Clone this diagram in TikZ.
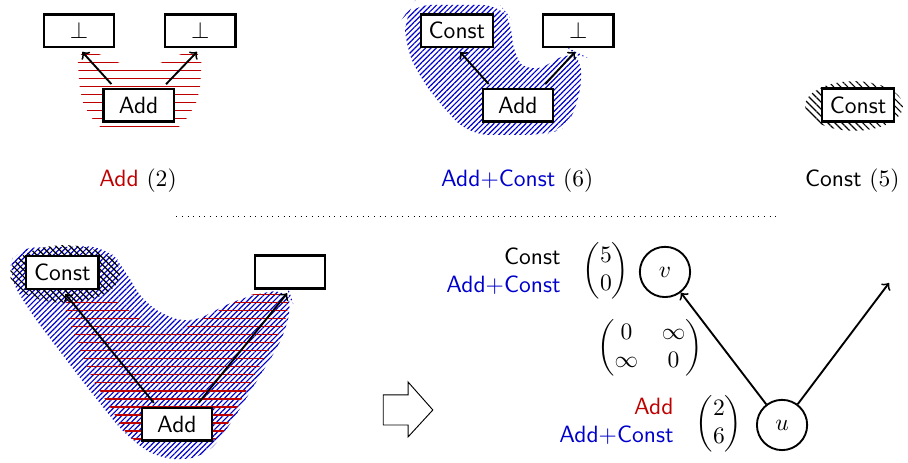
\documentclass[tikz,border=0pt]{standalone}
\usepackage{tikz}
\usetikzlibrary{arrows,positioning,calc,patterns.meta}
\usepackage{xcolor}
\usepackage{amsmath}

\begin{document}
\begin{tikzpicture}[
    op/.style={rectangle, draw=black, line width=1pt, fill=white, minimum width=1.05cm, minimum height=0.49cm, font=\sffamily},
    vertex/.style={circle, draw=black, thick, minimum size=0.75cm},
    arrow/.style={->, thick, shorten <=2pt, shorten >=2pt},
    edgearrow/.style={->, thick},
    caption/.style={font=\sffamily},
    redhatch/.style={pattern={Lines[angle=0, distance=3.4pt, line width=0.5pt]}, pattern color=red!75!black, rounded corners=6pt},
    bluehatch/.style={pattern={Lines[angle=45, distance=1.6pt, line width=0.5pt]}, pattern color=blue!80!black, rounded corners=8pt},
    blackhatch/.style={pattern={Lines[angle=-45, distance=2.1pt, line width=0.5pt]}, pattern color=black}
]
\useasboundingbox (0,0) rectangle (13.552,6.910);

% top left: Add
\fill[redhatch] (1.149,6.164) -- (1.343,6.164) -- (2.090,5.836) -- (2.836,6.164) -- (3.015,6.164) -- (2.985,5.493) -- (2.836,5.194) -- (2.612,4.925) -- (1.567,4.925) -- (1.313,5.194) -- (1.194,5.493) -- cycle;

\node[op] (bota) at (1.18,6.45) {$\bot$};
\node[op] (botb) at (2.99,6.45) {$\bot$};
\node[op] (add1) at (2.07,5.34) {Add};

\draw[arrow] ([xshift=-0.36cm]add1.north) -- (bota.south);
\draw[arrow] ([xshift=0.36cm]add1.north) -- (botb.south);

\node[caption] (cap1) at (2.06,4.21) {\textcolor{red!75!black}{Add} $(2)$};

% top middle: Add+Const
\fill[bluehatch] (6.149,6.836) -- (7.463,6.836) -- (7.642,6.612) -- (7.642,6.090) -- (7.910,5.791) -- (8.537,6.164) -- (8.687,6.090) -- (8.657,5.418) -- (8.433,5.000) -- (8.134,4.896) -- (7.015,4.896) -- (6.642,5.269) -- (6.269,5.746) -- (6.045,6.239) -- (6.045,6.687) -- cycle;

\node[op] (const2) at (6.82,6.45) {Const};
\node[op] (botc) at (8.63,6.45) {$\bot$};
\node[op] (add2) at (7.73,5.34) {Add};

\draw[arrow] ([xshift=-0.39cm]add2.north) -- (const2.south);
\draw[arrow] ([xshift=0.36cm]add2.north) -- (botc.south);

\node[caption] (cap2) at (7.72,4.21) {\textcolor{blue!80!black}{Add+Const} $(6)$};

% top right: Const
\fill[blackhatch] (12.746,5.328) ellipse (0.73 and 0.37);
\node[op] (const3) at (12.806,5.343) {Const};

\node[caption] (cap3) at (12.72,4.21) {Const $(5)$};

\draw[dotted] (2.63,3.672) -- (11.61,3.672);

% bottom left: cover
\fill[bluehatch] (0.224,3.209) -- (1.567,3.239) -- (1.821,2.955) -- (2.164,2.358) -- (2.791,2.060) -- (3.582,2.463) -- (4.299,2.612) -- (4.358,2.433) -- (4.254,1.910) -- (3.433,0.567) -- (3.060,0.075) -- (2.388,0.045) -- (1.866,0.418) -- (1.194,1.269) -- (0.448,2.254) -- (0.119,2.806) -- cycle;
\fill[redhatch] (0.925,2.493) -- (1.642,2.493) -- (2.463,1.866) -- (3.806,2.552) -- (4.299,2.582) -- (4.299,2.164) -- (3.910,1.507) -- (3.254,0.313) -- (1.985,0.284) -- (1.343,1.313) -- (0.970,2.284) -- cycle;
\fill[blackhatch] (0.970,2.821) ellipse (0.82 and 0.43);

\node[op] (const4) at (0.93,2.84) {Const};
\node[op] (empty4) at (4.33,2.85) {};
\node[op] (add4) at (2.64,0.58) {Add};

\draw[arrow] ([xshift=-0.30cm]add4.north) -- (const4.south);
\draw[arrow] ([xshift=0.28cm]add4.north) -- (empty4.south);

% hollow arrow
\draw[thin] (5.72,1.015) -- (6.09,1.015) -- (6.09,1.209) -- (6.46,0.791) -- (6.09,0.388) -- (6.09,0.567) -- (5.72,0.567) -- cycle;

% bottom right: graph with costs
\node[vertex] (v) at (9.925,2.851) {$v$};
\node[vertex] (u) at (11.672,0.567) {$u$};
\coordinate (out) at (13.269,2.687);

\draw[edgearrow] (u) -- (v);
\draw[edgearrow] (u) -- (out);

\node (costv) at (9.045,2.866) {$\begin{pmatrix}5\\0\end{pmatrix}$};
\node[caption, anchor=east, inner sep=0, align=right] (namesv) at (8.373,2.866) {Const\\ \textcolor{blue!80!black}{Add+Const}};

\node (costuv) at (9.701,1.716) {$\begin{pmatrix}0 & \infty\\ \infty & 0\end{pmatrix}$};

\node (costu) at (10.731,0.582) {$\begin{pmatrix}2\\6\end{pmatrix}$};
\node[caption, anchor=east, inner sep=0, align=right] (namesu) at (10.06,0.627) {\textcolor{red!75!black}{Add}\\ \textcolor{blue!80!black}{Add+Const}};

\end{tikzpicture}
\end{document}
